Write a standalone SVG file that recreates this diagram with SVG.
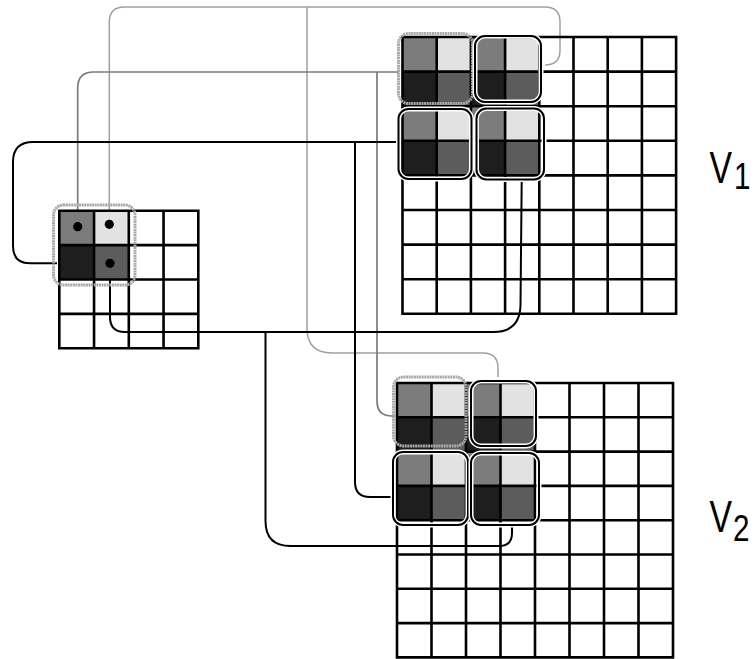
<svg xmlns="http://www.w3.org/2000/svg" width="756" height="659" viewBox="0 0 756 659">
<style>
.bg{fill:#ffffff}
.grid{fill:none;stroke:#000;stroke-width:2.6;stroke-linecap:square}
.cTL{fill:#7c7c7c}
.cTR{fill:#e2e2e2}
.cBL{fill:#1e1e1e}
.cBR{fill:#5c5c5c}
.halo{fill:none;stroke:#fff;stroke-width:5}
.bGray{fill:none;stroke:#a8a8a8;stroke-width:3;stroke-dasharray:2 0.6}
.bBlack{fill:none;stroke:#000;stroke-width:2}
.lnMid{fill:none;stroke:#7a7a7a;stroke-width:1.7}
.lnLight{fill:none;stroke:#a0a0a0;stroke-width:1.5}
.lnBlack{fill:none;stroke:#000;stroke-width:2}
.dot{fill:#000}
.lbl{font-family:"Liberation Sans",Arial,sans-serif;fill:#000}
</style>
<rect class="bg" x="0" y="0" width="756" height="659"/>

<g id="connectors">
  <path class="lnLight" d="M109.3,224.3 V22 Q109.3,7 124.3,7 H545 Q560,7 560,22 V50 Q560,65 545,65"/>
  <path class="lnLight" d="M307,7 V328 Q307,353 332,353 H483 Q498,353 498,368 V377"/>
  <path class="lnMid" d="M77.7,226.7 V88 Q77.7,72 93.7,72 H399"/>
  <path class="lnMid" d="M377,72 V401 Q377,416 392,416 H395"/>
  <path class="lnBlack" d="M57,263.3 H30 Q13,263.3 13,246 V162 Q13,142 33,142 H398"/>
  <path class="lnBlack" d="M355,142 V482 Q355,497 370,497 H394"/>
  <path class="lnBlack" d="M110,263.3 V317 Q110,332 125,332 H493 Q520,332 520.5,305 L521.7,181"/>
  <path class="lnBlack" d="M265.5,332 V521 Q265.5,546 290.5,546 H499 Q512,546 512,533 V526"/>
</g>

<g id="small-grid">
  <rect class="cTL" x="59.3" y="210.7" width="34.75" height="34.4"/>
  <rect class="cTR" x="94.05" y="210.7" width="34.75" height="34.4"/>
  <rect class="cBL" x="59.3" y="245.1" width="34.75" height="34.4"/>
  <rect class="cBR" x="94.05" y="245.1" width="34.75" height="34.4"/>
  <path class="grid" d="M59.3,210.7 H198.3 M59.3,245.1 H198.3 M59.3,279.5 H198.3 M59.3,313.9 H198.3 M59.3,348.3 H198.3 M59.3,210.7 V348.3 M94.05,210.7 V348.3 M128.8,210.7 V348.3 M163.55,210.7 V348.3 M198.3,210.7 V348.3"/>
  <rect class="bGray" x="53.5" y="205" width="81.5" height="80" rx="10"/>
  <circle class="dot" cx="77.7" cy="226.7" r="4.6"/>
  <circle class="dot" cx="109.3" cy="224.3" r="4.6"/>
  <circle class="dot" cx="110" cy="263.3" r="4.6"/>
</g>

<g id="v1-grid">
  <rect class="cTL" x="402.5" y="37" width="34.2" height="34.6"/>
  <rect class="cTR" x="436.7" y="37" width="34.2" height="34.6"/>
  <rect class="cBL" x="402.5" y="71.6" width="34.2" height="34.6"/>
  <rect class="cBR" x="436.7" y="71.6" width="34.2" height="34.6"/>
  <rect class="cTL" x="470.9" y="37" width="34.2" height="34.6"/>
  <rect class="cTR" x="505.1" y="37" width="34.2" height="34.6"/>
  <rect class="cBL" x="470.9" y="71.6" width="34.2" height="34.6"/>
  <rect class="cBR" x="505.1" y="71.6" width="34.2" height="34.6"/>
  <rect class="cTL" x="402.5" y="106.2" width="34.2" height="34.6"/>
  <rect class="cTR" x="436.7" y="106.2" width="34.2" height="34.6"/>
  <rect class="cBL" x="402.5" y="140.8" width="34.2" height="34.6"/>
  <rect class="cBR" x="436.7" y="140.8" width="34.2" height="34.6"/>
  <rect class="cTL" x="470.9" y="106.2" width="34.2" height="34.6"/>
  <rect class="cTR" x="505.1" y="106.2" width="34.2" height="34.6"/>
  <rect class="cBL" x="470.9" y="140.8" width="34.2" height="34.6"/>
  <rect class="cBR" x="505.1" y="140.8" width="34.2" height="34.6"/>
  <path class="grid" d="M402.5,37 H676 M402.5,71.6 H676 M402.5,106.2 H676 M402.5,140.8 H676 M402.5,175.4 H676 M402.5,210 H676 M402.5,244.6 H676 M402.5,279.2 H676 M402.5,313.8 H676 M402.5,37 V313.8 M436.7,37 V313.8 M470.9,37 V313.8 M505.1,37 V313.8 M539.3,37 V313.8 M573.5,37 V313.8 M607.7,37 V313.8 M641.9,37 V313.8 M676.1,37 V313.8"/>
  <rect class="bGray" x="398.5" y="33.5" width="74" height="70" rx="10"/>
  <rect class="halo" x="475" y="36" width="66" height="66" rx="10"/>
  <rect class="bBlack" x="475" y="36" width="66" height="66" rx="10"/>
  <rect class="halo" x="398.5" y="109" width="73" height="70" rx="10"/>
  <rect class="bBlack" x="398.5" y="109" width="73" height="70" rx="10"/>
  <rect class="halo" x="476.5" y="108.5" width="67.5" height="71" rx="10"/>
  <rect class="bBlack" x="476.5" y="108.5" width="67.5" height="71" rx="10"/>
</g>

<g id="v2-grid">
  <rect class="cTL" x="397" y="383" width="34.5" height="34.3"/>
  <rect class="cTR" x="431.5" y="383" width="34.5" height="34.3"/>
  <rect class="cBL" x="397" y="417.3" width="34.5" height="34.3"/>
  <rect class="cBR" x="431.5" y="417.3" width="34.5" height="34.3"/>
  <rect class="cTL" x="466" y="383" width="34.5" height="34.3"/>
  <rect class="cTR" x="500.5" y="383" width="34.5" height="34.3"/>
  <rect class="cBL" x="466" y="417.3" width="34.5" height="34.3"/>
  <rect class="cBR" x="500.5" y="417.3" width="34.5" height="34.3"/>
  <rect class="cTL" x="397" y="451.6" width="34.5" height="34.3"/>
  <rect class="cTR" x="431.5" y="451.6" width="34.5" height="34.3"/>
  <rect class="cBL" x="397" y="485.9" width="34.5" height="34.3"/>
  <rect class="cBR" x="431.5" y="485.9" width="34.5" height="34.3"/>
  <rect class="cTL" x="466" y="451.6" width="34.5" height="34.3"/>
  <rect class="cTR" x="500.5" y="451.6" width="34.5" height="34.3"/>
  <rect class="cBL" x="466" y="485.9" width="34.5" height="34.3"/>
  <rect class="cBR" x="500.5" y="485.9" width="34.5" height="34.3"/>
  <path class="grid" d="M397,383 H673 M397,417.3 H673 M397,451.6 H673 M397,485.9 H673 M397,520.2 H673 M397,554.5 H673 M397,588.8 H673 M397,623.1 H673 M397,657.4 H673 M397,383 V657.4 M431.5,383 V657.4 M466,383 V657.4 M500.5,383 V657.4 M535,383 V657.4 M569.5,383 V657.4 M604,383 V657.4 M638.5,383 V657.4 M673,383 V657.4"/>
  <rect class="bGray" x="393.5" y="377" width="72.5" height="69" rx="10"/>
  <rect class="halo" x="471" y="381" width="65" height="65" rx="10"/>
  <rect class="bBlack" x="471" y="381" width="65" height="65" rx="10"/>
  <rect class="halo" x="393" y="452" width="75" height="73" rx="10"/>
  <rect class="bBlack" x="393" y="452" width="75" height="73" rx="10"/>
  <rect class="halo" x="471" y="453" width="68" height="72" rx="10"/>
  <rect class="bBlack" x="471" y="453" width="68" height="72" rx="10"/>
</g>

<g id="labels">
  <text class="lbl" font-size="45" transform="translate(709.5,183) scale(0.75,1)">V</text>
  <text class="lbl" font-size="37" transform="translate(734,189) scale(0.8,1)">1</text>
  <text class="lbl" font-size="45" transform="translate(709.5,532) scale(0.75,1)">V</text>
  <text class="lbl" font-size="37" transform="translate(733,541) scale(0.8,1)">2</text>
</g>
</svg>
